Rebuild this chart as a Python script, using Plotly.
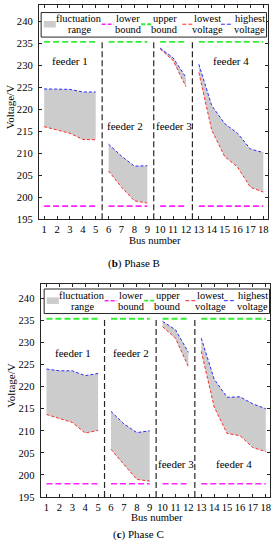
import plotly.graph_objects as go

# ---------------- data ----------------
buses = list(range(1, 19))
feeder_ranges = [(1, 5), (6, 9), (10, 12), (13, 18)]
feeder_names = ["feeder 1", "feeder 2", "feeder 3", "feeder 4"]
dividers = [5.5, 9.5, 12.5]
lower_bound = 198.0
upper_bound = 235.4
y_ticks = [195, 200, 205, 210, 215, 220, 225, 230, 235, 240]

phase_b_high = [224.7, 224.6, 224.6, 224.0, 224.0,
                212.1, 209.4, 207.1, 207.2,
                234.0, 231.8, 227.3,
                230.3, 220.9, 216.8, 214.6, 211.0, 210.2]
phase_b_low = [216.1, 215.3, 214.6, 213.2, 213.1,
               206.0, 202.3, 199.2, 198.7,
               233.8, 231.2, 225.2,
               228.4, 215.3, 209.3, 206.9, 202.3, 201.2]

phase_c_high = [224.0, 223.6, 223.6, 222.5, 223.0,
                214.4, 211.6, 209.6, 210.0,
                234.8, 232.9, 227.8,
                231.0, 221.7, 217.6, 217.7, 216.1, 215.0]
phase_c_low = [213.7, 212.8, 211.9, 209.5, 210.1,
               205.8, 202.3, 199.0, 198.6,
               233.6, 231.0, 224.5,
               228.0, 215.4, 209.4, 208.9, 206.2, 205.3]

legend_labels = [("fluctuation", "range"), ("lower", "bound"), ("upper", "bound"),
                 ("lowest", "voltage"), ("highest", "voltage")]
captions = ["(<b>b</b>) Phase B", "(<b>c</b>) Phase C"]

# ---------------- styles / layout ----------------
W, H = 279, 550
FONT = "Liberation Serif"
AX = "#262626"
FILL = "#cccccc"
C_LOW = "#ff2a2a"
C_HIGH = "#2a2aff"
C_LB = "#ff22ff"
C_UB = "#33ee33"
DIV_TOP = 235.7


def px(x):
    return x / W


def py(y):
    return 1 - y / H


panels = [
    dict(high=phase_b_high, low=phase_b_low,
         left=39.0, right=269.3, top=4.7, bottom=221.7,
         xrange=[0.59, 18.39], yrange=[195, 243.9],
         label_pos=[(3.0, 231.0), (7.25, 216.2), (11.1, 216.2), (15.5, 231.0)],
         legend_left=41.3, legend_top=12.7,
         caption_xy=(134.5, 266.0), xtitle_xy=(155.5, 243.3), ytitle_xy=(9.5, 108.0)),
    dict(high=phase_c_high, low=phase_c_low,
         left=40.7, right=271.0, top=287.0, bottom=502.5,
         xrange=[0.54, 18.33], yrange=[195, 243.3],
         label_pos=[(3.06, 227.6), (7.57, 227.6), (11.05, 202.4), (15.57, 202.4)],
         legend_left=44.3, legend_top=292.2,
         caption_xy=(139.0, 540.7), xtitle_xy=(158.0, 523.6), ytitle_xy=(11.0, 390.0)),
]

fig = go.Figure()
shapes = []
annotations = []
layout_axes = {}

for i, p in enumerate(panels):
    sfx = "" if i == 0 else str(i + 1)
    xa, ya = "x" + sfx, "y" + sfx
    for (a, b) in feeder_ranges:
        xs = buses[a - 1:b]
        hi = p["high"][a - 1:b]
        lo = p["low"][a - 1:b]
        fig.add_trace(go.Scatter(x=xs + xs[::-1], y=hi + lo[::-1], fill="toself",
                                 fillcolor=FILL, mode="lines", line=dict(width=0),
                                 xaxis=xa, yaxis=ya, showlegend=False, hoverinfo="skip"))
    for (a, b) in feeder_ranges:
        xs = buses[a - 1:b]
        fig.add_trace(go.Scatter(x=xs, y=p["low"][a - 1:b], mode="lines",
                                 line=dict(color=C_LOW, width=1, dash="3px,2px"),
                                 xaxis=xa, yaxis=ya, showlegend=False))
        fig.add_trace(go.Scatter(x=xs, y=p["high"][a - 1:b], mode="lines",
                                 line=dict(color=C_HIGH, width=1, dash="3px,2px"),
                                 xaxis=xa, yaxis=ya, showlegend=False))
        fig.add_trace(go.Scatter(x=[xs[0], xs[-1]], y=[lower_bound, lower_bound], mode="lines",
                                 line=dict(color=C_LB, width=1.6, dash="6px,3px"),
                                 xaxis=xa, yaxis=ya, showlegend=False))
        fig.add_trace(go.Scatter(x=[xs[0], xs[-1]], y=[upper_bound, upper_bound], mode="lines",
                                 line=dict(color=C_UB, width=1.8, dash="6px,3px"),
                                 xaxis=xa, yaxis=ya, showlegend=False))
    for d in dividers:
        fig.add_trace(go.Scatter(x=[d, d], y=[p["yrange"][0], DIV_TOP], mode="lines",
                                 line=dict(color=AX, width=1.2, dash="6px,3px"),
                                 xaxis=xa, yaxis=ya, showlegend=False))
    for name, (lx, ly) in zip(feeder_names, p["label_pos"]):
        annotations.append(dict(x=lx, y=ly, xref=xa, yref=ya, text=name, showarrow=False,
                                xanchor="center", yanchor="middle",
                                font=dict(family=FONT, size=11, color="black")))

    axis_common = dict(ticks="inside", ticklen=3, tickcolor=AX, tickwidth=1,
                       showline=True, linecolor=AX, linewidth=1, mirror="allticks",
                       showgrid=False, zeroline=False,
                       tickfont=dict(family=FONT, size=10.6, color="black"))
    layout_axes["xaxis" + sfx] = dict(axis_common, domain=[px(p["left"]), px(p["right"])],
                                      range=p["xrange"], tickvals=buses, anchor=ya,
                                      tickmode="array", tickangle=0)
    layout_axes["yaxis" + sfx] = dict(axis_common, domain=[py(p["bottom"]), py(p["top"])],
                                      range=p["yrange"], tickvals=y_ticks, anchor=xa,
                                      tickmode="array", ticklabelstandoff=3)

    # legend box (drawn manually)
    L, T = p["legend_left"], p["legend_top"]
    bw, bh = 226.2, 24.8
    shapes.append(dict(type="rect", xref="paper", yref="paper",
                       x0=px(L), x1=px(L + bw), y0=py(T + bh), y1=py(T),
                       line=dict(color=AX, width=1), fillcolor="white", layer="above"))
    sym_y = T + 11.8
    shapes.append(dict(type="rect", xref="paper", yref="paper",
                       x0=px(L + 2.7), x1=px(L + 14.7), y0=py(sym_y + 3.3), y1=py(sym_y - 3.3),
                       line=dict(width=0), fillcolor=FILL, layer="above"))
    for (x0, x1, col, w) in [(60.7, 73.2, C_LB, 1.6), (100.4, 112.0, C_UB, 1.8),
                             (141.7, 153.7, C_LOW, 1.0), (180.4, 192.0, C_HIGH, 1.0)]:
        shapes.append(dict(type="line", xref="paper", yref="paper",
                           x0=px(L + x0), x1=px(L + x1), y0=py(sym_y), y1=py(sym_y),
                           line=dict(color=col, width=w, dash="4px,2px"), layer="above"))
    for (cx, (l1, l2)) in zip([38.0, 87.2, 124.2, 166.5, 209.2], legend_labels):
        annotations.append(dict(x=px(L + cx), y=py(T + 6.2), xref="paper", yref="paper",
                                text=l1, showarrow=False, xanchor="center", yanchor="middle",
                                font=dict(family=FONT, size=10.4, color="black")))
        annotations.append(dict(x=px(L + cx), y=py(T + 17.4), xref="paper", yref="paper",
                                text=l2, showarrow=False, xanchor="center", yanchor="middle",
                                font=dict(family=FONT, size=10.4, color="black")))

    cxp, cyp = p["caption_xy"]
    annotations.append(dict(x=px(cxp), y=py(cyp), xref="paper", yref="paper", text=captions[i],
                            showarrow=False, xanchor="center", yanchor="middle",
                            font=dict(family=FONT, size=11, color="black")))
    tx, ty = p["xtitle_xy"]
    annotations.append(dict(x=px(tx), y=py(ty), xref="paper", yref="paper", text="Bus number",
                            showarrow=False, xanchor="center", yanchor="middle",
                            font=dict(family=FONT, size=10.6, color="black")))
    yx, yy = p["ytitle_xy"]
    annotations.append(dict(x=px(yx), y=py(yy), xref="paper", yref="paper", text="Voltage/V",
                            showarrow=False, textangle=-90, xanchor="center", yanchor="middle",
                            font=dict(family=FONT, size=11, color="black")))

fig.update_layout(width=W, height=H, margin=dict(l=0, r=0, t=0, b=0),
                  paper_bgcolor="white", plot_bgcolor="white", showlegend=False,
                  shapes=shapes, annotations=annotations, **layout_axes)

fig.write_html("out.html", config={"displayModeBar": False},
               post_script="document.body.style.margin='0px';")
